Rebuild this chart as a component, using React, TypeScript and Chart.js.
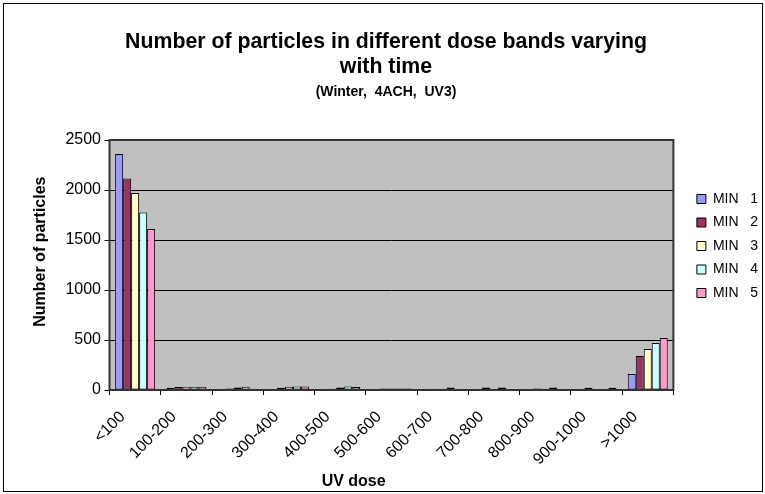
import React, { useEffect, useRef } from 'react';
import { Chart, registerables, layouts } from 'chart.js';

Chart.register(...registerables);

const categories = ['<100', '100-200', '200-300', '300-400', '400-500', '500-600', '600-700', '700-800', '800-900', '900-1000', '>1000'];
const seriesLabels = ['MIN   1', 'MIN   2', 'MIN   3', 'MIN   4', 'MIN   5'];
const min1 = [2360, 22, 10, 8, 8, 8, 8, 8, 8, 8, 160];
const min2 = [2115, 30, 15, 22, 12, 15, 12, 25, 15, 22, 340];
const min3 = [1970, 32, 25, 32, 25, 15, 12, 8, 12, 8, 410];
const min4 = [1775, 32, 32, 34, 35, 15, 25, 25, 25, 10, 470];
const min5 = [1610, 32, 12, 34, 30, 15, 10, 8, 8, 22, 520];
const seriesColors = ['#9999FF', '#993366', '#FFFFCC', '#CCFFFF', '#FF99CC'];
const yTickValues = [0, 500, 1000, 1500, 2000, 2500];
const titleLines = ['Number of particles in different dose bands varying', 'with time'];
const subtitleText = '(Winter,  4ACH,  UV3)';
const xAxisTitle = 'UV dose';
const yAxisTitle = 'Number of particles';

const FONT = '"Liberation Sans", Arial, Helvetica, sans-serif';

const plotArea = {
  id: 'plotArea',
  beforeDraw(chart: any) {
    const { ctx, chartArea: a } = chart;
    ctx.save();
    ctx.fillStyle = '#C0C0C0';
    ctx.fillRect(a.left, a.top, a.right - a.left, a.bottom - a.top);
    ctx.restore();
  },
  afterDatasetsDraw(chart: any) {
    const { ctx, chartArea: a } = chart;
    ctx.save();
    ctx.strokeStyle = '#333333';
    ctx.lineWidth = 2;
    ctx.strokeRect(a.left, a.top, a.right - a.left, a.bottom - a.top);
    ctx.restore();
  },
};

const rightSpacer = {
  id: 'rightSpacer',
  beforeInit(chart: any) {
    const box: any = {
      position: 'right',
      weight: 500,
      fullSize: false,
      options: { stackWeight: 1 },
      width: 0,
      height: 0,
      top: 0,
      left: 0,
      right: 0,
      bottom: 0,
      isHorizontal() {
        return false;
      },
      update(_w: number, maxHeight: number) {
        this.width = 14;
        this.height = maxHeight;
        return { width: this.width, height: this.height };
      },
      getPadding() {
        return { top: 0, left: 0, right: 0, bottom: 0 };
      },
      draw() {},
    };
    layouts.addBox(chart, box);
  },
};

export default function App() {
  const ref = useRef<HTMLCanvasElement>(null);
  useEffect(() => {
    const canvas = ref.current!;
    const series = [min1, min2, min3, min4, min5];
    const chart = new Chart(canvas, {
      type: 'bar',
      data: {
        labels: categories,
        datasets: series.map((d, i) => ({
          label: seriesLabels[i],
          data: d,
          backgroundColor: seriesColors[i],
          borderColor: '#000000',
          borderWidth: 1,
          borderSkipped: false,
          barPercentage: 1,
          categoryPercentage: 0.78,
        })),
      },
      options: {
        responsive: false,
        animation: false,
        devicePixelRatio: 1,
        layout: { padding: { left: 0, right: -6, top: 0, bottom: 0 } },
        plugins: {
          title: {
            display: true,
            text: titleLines,
            color: '#000',
            font: { family: FONT, size: 21.3, weight: 'bold', lineHeight: 25 / 21.3 },
            padding: { top: 25.5, bottom: 0 },
          },
          subtitle: {
            display: true,
            text: subtitleText,
            color: '#000',
            font: { family: FONT, size: 14, weight: 'bold', lineHeight: 1.2 },
            padding: { top: 4.1, bottom: 39.6 },
          },
          legend: {
            display: true,
            position: 'right',
            align: 'start',
            fullSize: false,
            labels: {
              boxWidth: 9,
              boxHeight: 9,
              padding: 9.5,
              color: '#000',
              font: { family: FONT, size: 14 },
            },
            title: { display: true, text: ' ', font: { family: FONT, size: 10, lineHeight: 1.2 }, padding: 15.25 },
          },
          tooltip: { enabled: false },
        },
        scales: {
          x: {
            grid: { display: true, drawOnChartArea: false, drawTicks: true, tickLength: 5, color: '#000', offset: true },
            border: { display: true, color: '#000', width: 1 },
            ticks: {
              color: '#000',
              font: { family: FONT, size: 16 },
              maxRotation: 45,
              minRotation: 45,
              autoSkip: false,
              padding: 0,
              callback(_v: any, i: number) {
                return categories[i] + '    ';
              },
            },
            title: {
              display: true,
              text: xAxisTitle + ' '.repeat(17),
              color: '#000',
              font: { family: FONT, size: 16, weight: 'bold', lineHeight: 1 },
              padding: { top: 0, bottom: 1 },
            },
            afterFit(s: any) {
              s.height = 101;
            },
          },
          y: {
            min: 0,
            max: 2500,
            afterBuildTicks(s: any) {
              s.ticks = yTickValues.map((v) => ({ value: v }));
            },
            grid: { color: '#000', lineWidth: 1, tickLength: 5, drawTicks: true },
            border: { display: true, color: '#000', width: 1 },
            ticks: {
              color: '#000',
              font: { family: FONT, size: 16 },
              padding: 3.5,
              callback(v: any) {
                return String(v);
              },
            },
            title: {
              display: true,
              text: ' '.repeat(6) + yAxisTitle,
              color: '#000',
              font: { family: FONT, size: 16, weight: 'bold', lineHeight: 1.2 },
              padding: { top: 27, bottom: 0 },
            },
            afterFit(s: any) {
              s.width = 105.5;
            },
          },
        },
      },
      plugins: [plotArea, rightSpacer],
    } as any);
    return () => chart.destroy();
  }, []);
  return (
    <div style={{ position: 'fixed', left: 0, top: 0, width: 765, height: 494, background: '#fff' }}>
      <div
        style={{
          position: 'absolute',
          left: 3,
          top: 3,
          width: 760,
          height: 489,
          boxSizing: 'border-box',
          border: '1px solid #000',
        }}
      >
        <canvas ref={ref} width={758} height={487} style={{ display: 'block', width: 758, height: 487 }} />
      </div>
    </div>
  );
}
